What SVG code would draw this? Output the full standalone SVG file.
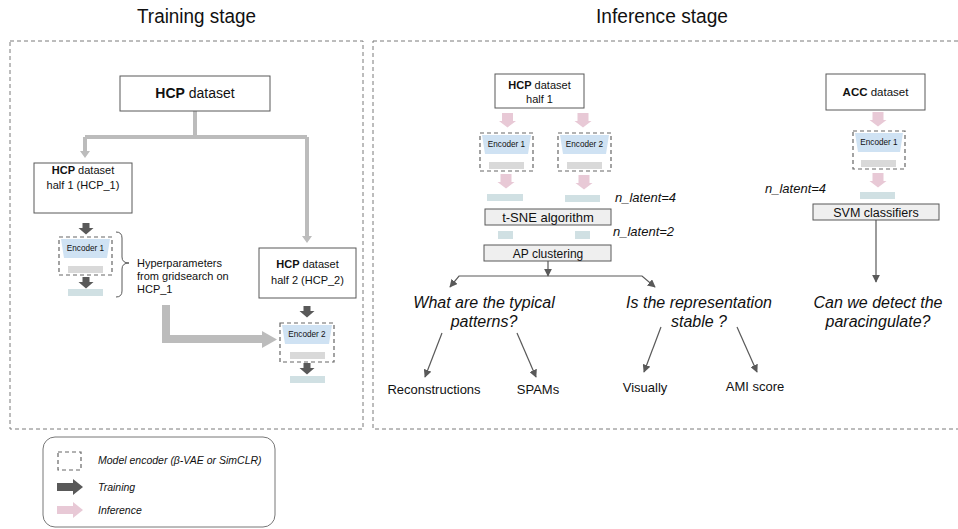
<svg xmlns="http://www.w3.org/2000/svg" xmlns:xlink="http://www.w3.org/1999/xlink" width="958" height="529" viewBox="0 0 958 529">
<style>
text{font-family:"Liberation Sans",Arial,sans-serif;fill:#111}
.panel{fill:none;stroke:#7a7a7a;stroke-width:1;stroke-dasharray:4 3}
.box{fill:#fff;stroke:#595959;stroke-width:1}
.gbox{fill:#efefef;stroke:#595959;stroke-width:1}
.enc{fill:none;stroke:#666;stroke-width:1.2;stroke-dasharray:4 3}
.trap{fill:#cfe2f3}
.gbar{fill:#d9d9d9}
.lbar{fill:#d0e0e3}
.dark{fill:#595959}
.pink{fill:#e8c9d6}
.grey{fill:none;stroke:#bcbcbc;stroke-width:4}
.thin{fill:none;stroke:#595959;stroke-width:1.2;marker-end:url(#ah)}
.et{font-size:8.2px;text-anchor:middle}
.c{text-anchor:middle}
.it{font-style:italic}
</style>
<defs>
<marker id="ah" viewBox="0 0 10 10" refX="9" refY="5" markerWidth="8" markerHeight="8" markerUnits="userSpaceOnUse" orient="auto"><path d="M0,0 L10,5 L0,10 z" fill="#595959"/></marker>
<path id="darr" d="M-3.5,0 h7 v5 h4 l-7.5,6.5 l-7.5,-6.5 h4 z"/>
<path id="parr" d="M-5.5,0 h11 v8 h3 l-8.5,6.5 l-8.5,-6.5 h3 z"/>
</defs>

<text x="137" y="23" font-size="20" textLength="119" lengthAdjust="spacingAndGlyphs">Training stage</text>
<text x="596" y="23" font-size="20" textLength="132" lengthAdjust="spacingAndGlyphs">Inference stage</text>

<rect class="panel" x="10" y="41" width="353" height="388"/>
<rect class="panel" x="373" y="41" width="600" height="388"/>

<g id="connectors">
<path class="grey" d="M195,111 V137 M85,137 H307 M85,137 V152 M307,137 V237"/>
<path d="M80,151 L90,151 L85,158 z M302,236 L312,236 L307,243 z" fill="#bcbcbc"/>
<path d="M166,305 V339 H264" fill="none" stroke="#bcbcbc" stroke-width="8"/>
<path d="M262,331 L277,339.5 L262,348 z" fill="#bcbcbc"/>
<use href="#darr" x="86" y="223" class="dark"/>
<use href="#darr" x="86" y="277" class="dark"/>
<use href="#darr" x="307" y="306" class="dark"/>
<use href="#darr" x="307" y="363" class="dark"/>
<use href="#parr" x="507.5" y="113" class="pink"/>
<use href="#parr" x="583" y="113" class="pink"/>
<use href="#parr" x="506" y="174" class="pink"/>
<use href="#parr" x="584" y="175" class="pink"/>
<use href="#parr" x="878" y="112" class="pink"/>
<use href="#parr" x="878" y="173" class="pink"/>
<path class="thin" d="M548,261 V276"/>
<path class="thin" d="M548,276 H459 L450,287"/>
<path class="thin" d="M548,276 H642 L655,287"/>
<path class="thin" d="M876,220 V282"/>
<path class="thin" d="M442,333 L425,377"/>
<path class="thin" d="M517,333 L536,377"/>
<path class="thin" d="M661,327 L644,372"/>
<path class="thin" d="M737,327 L757,372"/>
</g>

<g id="hcp">
<rect class="box" x="120" y="76" width="150" height="35"/>
<text class="c" x="195" y="98" font-size="14"><tspan font-weight="bold">HCP</tspan> dataset</text>
</g>
<g id="hcp1">
<rect class="box" x="34" y="163" width="98" height="50"/>
<text class="c" x="83" y="174" font-size="11"><tspan font-weight="bold">HCP</tspan> dataset</text>
<text class="c" x="83" y="189" font-size="11">half 1 (HCP_1)</text>
</g>
<g id="train-enc1">
<rect class="enc" x="59" y="237" width="53" height="38"/>
<path class="trap" d="M61,239 H110 L107,258 H64 z"/>
<text class="et" x="85.5" y="251">Encoder 1</text>
<rect class="gbar" x="68" y="266" width="35" height="7"/>
<rect class="lbar" x="68" y="289" width="35" height="7"/>
</g>
<g id="hyper">
<path d="M116,232 q6,0 6,6 v19 q0,6 7,6 q-7,0 -7,6 v22 q0,6 -6,6" fill="none" stroke="#595959" stroke-width="1"/>
<text x="137" y="267" font-size="11">Hyperparameters</text>
<text x="137" y="280" font-size="11">from gridsearch on</text>
<text x="137" y="293" font-size="11">HCP_1</text>
</g>
<g id="hcp2">
<rect class="box" x="259" y="248" width="97" height="50"/>
<text class="c" x="307.5" y="268" font-size="11"><tspan font-weight="bold">HCP</tspan> dataset</text>
<text class="c" x="307.5" y="284" font-size="11">half 2 (HCP_2)</text>
</g>
<g id="train-enc2">
<rect class="enc" x="280" y="323" width="54" height="39"/>
<path class="trap" d="M282,325 H332 L329,344 H285 z"/>
<text class="et" x="307" y="337">Encoder 2</text>
<rect class="gbar" x="290" y="352" width="35" height="7"/>
<rect class="lbar" x="290" y="376" width="35" height="7"/>
</g>

<g id="inf-hcp1">
<rect class="box" x="495" y="74" width="89" height="34"/>
<text class="c" x="539.5" y="89" font-size="11"><tspan font-weight="bold">HCP</tspan> dataset</text>
<text class="c" x="539.5" y="103" font-size="11">half 1</text>
</g>
<g id="inf-enc1">
<rect class="enc" x="480" y="133" width="53" height="38"/>
<path class="trap" d="M482,135 H531 L528,154 H485 z"/>
<text class="et" x="506.5" y="147">Encoder 1</text>
<rect class="gbar" x="489" y="162" width="35" height="7"/>
<rect class="lbar" x="487" y="194" width="36" height="7"/>
</g>
<g id="inf-enc2">
<rect class="enc" x="558" y="133" width="53" height="38"/>
<path class="trap" d="M560,135 H609 L606,154 H563 z"/>
<text class="et" x="584.5" y="147">Encoder 2</text>
<rect class="gbar" x="567" y="162" width="35" height="7"/>
<rect class="lbar" x="565" y="195" width="35" height="7"/>
</g>
<text class="it" x="615" y="202" font-size="13">n_latent=4</text>
<g id="tsne">
<rect class="gbox" x="485" y="209" width="126" height="16"/>
<text class="c" x="548" y="222" font-size="13">t-SNE algorithm</text>
</g>
<rect class="lbar" x="498" y="231" width="15" height="8"/>
<rect class="lbar" x="575" y="231" width="15" height="8"/>
<text class="it" x="613" y="236" font-size="13">n_latent=2</text>
<g id="ap">
<rect class="gbox" x="484" y="245" width="127" height="16"/>
<text class="c" x="548" y="257.5" font-size="12">AP clustering</text>
</g>
<g id="q1">
<text class="c it" x="484" y="308" font-size="16">What are the typical</text>
<text class="c it" x="484" y="327" font-size="16">patterns?</text>
</g>
<g id="q2">
<text class="c it" x="699" y="308" font-size="16">Is the representation</text>
<text class="c it" x="699" y="327" font-size="16">stable ?</text>
</g>
<g id="q3">
<text class="c it" x="878" y="308" font-size="16">Can we detect the</text>
<text class="c it" x="878" y="327" font-size="16">paracingulate?</text>
</g>
<text class="c" x="434" y="394" font-size="13">Reconstructions</text>
<text class="c" x="538" y="394" font-size="13">SPAMs</text>
<text class="c" x="645" y="392" font-size="13">Visually</text>
<text class="c" x="755" y="391" font-size="13">AMI score</text>

<g id="acc">
<rect class="box" x="826" y="74" width="99" height="36"/>
<text class="c" x="875.5" y="96" font-size="11.5"><tspan font-weight="bold">ACC</tspan> dataset</text>
</g>
<g id="acc-enc1">
<rect class="enc" x="853" y="131" width="52" height="38"/>
<path class="trap" d="M855,133 H903 L900,152 H858 z"/>
<text class="et" x="879" y="145">Encoder 1</text>
<rect class="gbar" x="861" y="160" width="35" height="7"/>
<rect class="lbar" x="860" y="192" width="35" height="7"/>
</g>
<text class="it" x="765" y="193" font-size="13">n_latent=4</text>
<g id="svm">
<rect class="gbox" x="813" y="204" width="126" height="16"/>
<text class="c" x="876" y="216.5" font-size="12.5">SVM classifiers</text>
</g>

<g id="legend">
<rect x="43" y="437" width="232" height="90" rx="12" fill="#fff" stroke="#777" stroke-width="1"/>
<rect class="enc" x="58" y="452" width="23" height="18"/>
<text class="it" x="98" y="464" font-size="10.5">Model encoder (β-VAE or SimCLR)</text>
<path class="dark" d="M57,483 H73 V479 L83,487 L73,495 V491 H57 z"/>
<text class="it" x="98" y="491" font-size="10.5">Training</text>
<path class="pink" d="M57,506 H73 V502 L83,510 L73,518 V514 H57 z"/>
<text class="it" x="98" y="514" font-size="10.5">Inference</text>
</g>
</svg>
